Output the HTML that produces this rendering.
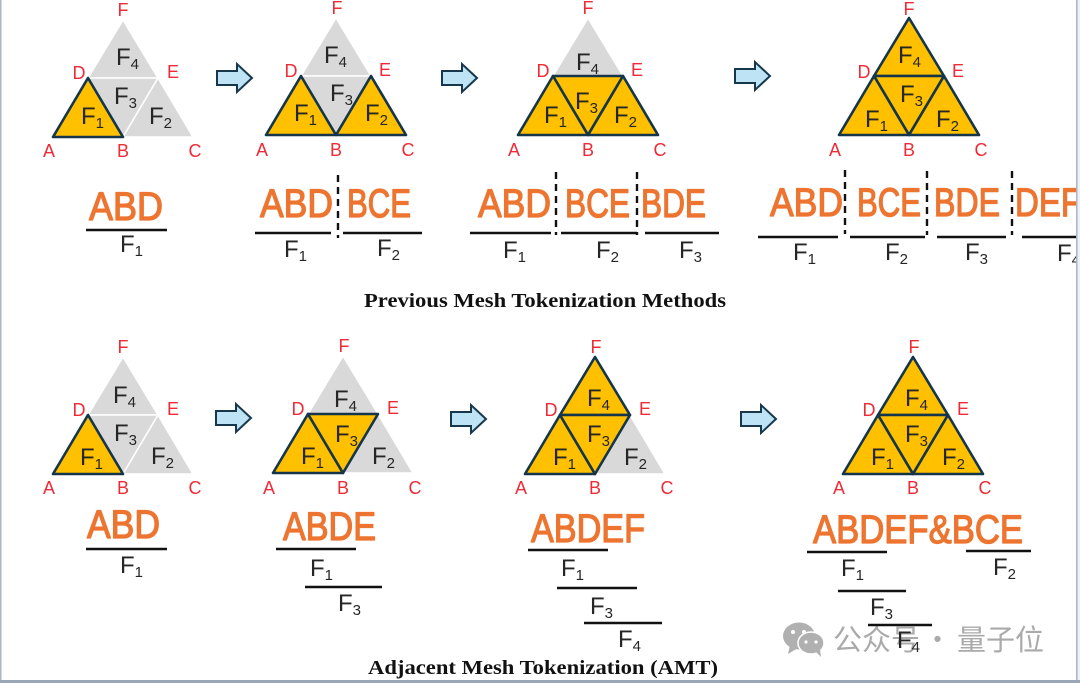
<!DOCTYPE html>
<html>
<head>
<meta charset="utf-8">
<style>
html,body{margin:0;padding:0;background:#fff;width:1080px;height:683px;overflow:hidden}
svg{display:block}
.v{font:18px "Liberation Sans",sans-serif;fill:#ee2b36;text-anchor:middle}
.f{font:24px "Liberation Sans",sans-serif;fill:#262626}
.s{font-size:15px}
.o{font:40px "Liberation Sans",sans-serif;fill:#ed7530;stroke:#ed7530;stroke-width:1.3px;stroke-linejoin:round}
.t{font:bold 20px "Liberation Serif",serif;fill:#111}
.w{font:29px "Noto Sans CJK SC","WenQuanYi Zen Hei",sans-serif;fill:#aaa}
.bar{stroke:#111;stroke-width:2.6}
.dash{stroke:#111;stroke-width:2.4;stroke-dasharray:7 5}
.g{fill:#d9d9d9;stroke:#fff;stroke-width:1.5;stroke-linejoin:round}
.y{fill:#ffc000;stroke:#15354a;stroke-width:2.6;stroke-linejoin:round}
.a{fill:#bde3f5;stroke:#17384c;stroke-width:2}
</style>
</head>
<body>
<svg width="1080" height="683" viewBox="0 0 1080 683" xmlns="http://www.w3.org/2000/svg">
<rect width="1080" height="683" fill="#fff"/>
<rect x="1077" y="0" width="3" height="683" fill="#eef0f3"/>
<rect x="0" y="0" width="1.5" height="683" fill="#aab4c4"/>
<rect x="1076" y="0" width="1.5" height="681" fill="#aab4c4"/>
<rect x="0" y="680" width="1080" height="3" fill="#9aa5b5"/>

<!-- Row 1 diagram 1 -->
<g transform="translate(53,137)">
<polygon class="g" points="35,-59 105,-59 70,-117"/><polygon class="g" points="35,-59 105,-59 70,0"/><polygon class="g" points="70,0 140,0 105,-59"/>
<polygon class="y" points="0,0 70,0 35,-59"/>
<text class="v" x="-4" y="20">A</text><text class="v" x="70" y="20">B</text><text class="v" x="142" y="20">C</text><text class="v" x="26" y="-58">D</text><text class="v" x="120" y="-59">E</text><text class="v" x="70" y="-121">F</text>
<text class="f" x="28" y="-13">F<tspan class="s" dy="4">1</tspan></text><text class="f" x="96" y="-13">F<tspan class="s" dy="4">2</tspan></text><text class="f" x="61" y="-33">F<tspan class="s" dy="4">3</tspan></text><text class="f" x="63" y="-72">F<tspan class="s" dy="4">4</tspan></text>
</g>
<!-- Row 1 diagram 2 -->
<g transform="translate(266,135)">
<polygon class="g" points="35,-59 105,-59 70,-117"/><polygon class="g" points="35,-59 105,-59 70,0"/>
<polygon class="y" points="0,0 70,0 35,-59"/><polygon class="y" points="70,0 140,0 105,-59"/>
<text class="v" x="-4" y="21">A</text><text class="v" x="70" y="21">B</text><text class="v" x="142" y="21">C</text><text class="v" x="25" y="-58">D</text><text class="v" x="119" y="-59">E</text><text class="v" x="71" y="-121">F</text>
<text class="f" x="28" y="-14">F<tspan class="s" dy="4">1</tspan></text><text class="f" x="99" y="-14">F<tspan class="s" dy="4">2</tspan></text><text class="f" x="64" y="-34">F<tspan class="s" dy="4">3</tspan></text><text class="f" x="58" y="-72">F<tspan class="s" dy="4">4</tspan></text>
</g>
<!-- Row 1 diagram 3 -->
<g transform="translate(518,135)">
<polygon class="g" points="35,-59 105,-59 70,-117"/>
<polygon class="y" points="35,-59 105,-59 70,0"/><polygon class="y" points="0,0 70,0 35,-59"/><polygon class="y" points="70,0 140,0 105,-59"/>
<text class="v" x="-4" y="21">A</text><text class="v" x="70" y="21">B</text><text class="v" x="142" y="21">C</text><text class="v" x="25" y="-58">D</text><text class="v" x="119" y="-59">E</text><text class="v" x="70" y="-121">F</text>
<text class="f" x="26" y="-12">F<tspan class="s" dy="4">1</tspan></text><text class="f" x="96" y="-12">F<tspan class="s" dy="4">2</tspan></text><text class="f" x="57" y="-26">F<tspan class="s" dy="4">3</tspan></text><text class="f" x="58" y="-65">F<tspan class="s" dy="4">4</tspan></text>
</g>
<!-- Row 1 diagram 4 -->
<g transform="translate(839,135)">
<polygon class="y" points="35,-59 105,-59 70,-117"/><polygon class="y" points="35,-59 105,-59 70,0"/><polygon class="y" points="0,0 70,0 35,-59"/><polygon class="y" points="70,0 140,0 105,-59"/>
<text class="v" x="-4" y="21">A</text><text class="v" x="70" y="21">B</text><text class="v" x="142" y="21">C</text><text class="v" x="25" y="-57">D</text><text class="v" x="119" y="-58">E</text><text class="v" x="70" y="-120">F</text>
<text class="f" x="26" y="-8">F<tspan class="s" dy="4">1</tspan></text><text class="f" x="97" y="-8">F<tspan class="s" dy="4">2</tspan></text><text class="f" x="61" y="-33">F<tspan class="s" dy="4">3</tspan></text><text class="f" x="59" y="-72">F<tspan class="s" dy="4">4</tspan></text>
</g>
<!-- Row 2 diagram 1 -->
<g transform="translate(53,474)">
<polygon class="g" points="35,-59 105,-59 70,-117"/><polygon class="g" points="35,-59 105,-59 70,0"/><polygon class="g" points="70,0 140,0 105,-59"/>
<polygon class="y" points="0,0 70,0 35,-59"/>
<text class="v" x="-4" y="20">A</text><text class="v" x="70" y="20">B</text><text class="v" x="142" y="20">C</text><text class="v" x="26" y="-58">D</text><text class="v" x="120" y="-59">E</text><text class="v" x="70" y="-121">F</text>
<text class="f" x="27" y="-9">F<tspan class="s" dy="4">1</tspan></text><text class="f" x="98" y="-10">F<tspan class="s" dy="4">2</tspan></text><text class="f" x="61" y="-33">F<tspan class="s" dy="4">3</tspan></text><text class="f" x="60" y="-71">F<tspan class="s" dy="4">4</tspan></text>
</g>
<!-- Row 2 diagram 2 -->
<g transform="translate(273,473)">
<polygon class="g" points="35,-59 105,-59 70,-117"/><polygon class="g" points="70,0 140,0 105,-59"/>
<polygon class="y" points="0,0 70,0 35,-59"/><polygon class="y" points="35,-59 105,-59 70,0"/>
<text class="v" x="-4" y="21">A</text><text class="v" x="70" y="21">B</text><text class="v" x="142" y="21">C</text><text class="v" x="25" y="-58">D</text><text class="v" x="120" y="-59">E</text><text class="v" x="71" y="-121">F</text>
<text class="f" x="28" y="-9">F<tspan class="s" dy="4">1</tspan></text><text class="f" x="99" y="-9">F<tspan class="s" dy="4">2</tspan></text><text class="f" x="62" y="-31">F<tspan class="s" dy="4">3</tspan></text><text class="f" x="61" y="-66">F<tspan class="s" dy="4">4</tspan></text>
</g>
<!-- Row 2 diagram 3 -->
<g transform="translate(525,474)">
<polygon class="g" points="70,0 140,0 105,-59"/>
<polygon class="y" points="35,-59 105,-59 70,-117"/><polygon class="y" points="0,0 70,0 35,-59"/><polygon class="y" points="35,-59 105,-59 70,0"/>
<text class="v" x="-4" y="20">A</text><text class="v" x="70" y="20">B</text><text class="v" x="142" y="20">C</text><text class="v" x="26" y="-58">D</text><text class="v" x="120" y="-59">E</text><text class="v" x="71" y="-121">F</text>
<text class="f" x="28" y="-9">F<tspan class="s" dy="4">1</tspan></text><text class="f" x="99" y="-9">F<tspan class="s" dy="4">2</tspan></text><text class="f" x="62" y="-32">F<tspan class="s" dy="4">3</tspan></text><text class="f" x="62" y="-68">F<tspan class="s" dy="4">4</tspan></text>
</g>
<!-- Row 2 diagram 4 -->
<g transform="translate(843,474)">
<polygon class="y" points="35,-59 105,-59 70,-117"/><polygon class="y" points="35,-59 105,-59 70,0"/><polygon class="y" points="0,0 70,0 35,-59"/><polygon class="y" points="70,0 140,0 105,-59"/>
<text class="v" x="-4" y="20">A</text><text class="v" x="70" y="20">B</text><text class="v" x="142" y="20">C</text><text class="v" x="26" y="-58">D</text><text class="v" x="120" y="-59">E</text><text class="v" x="71" y="-121">F</text>
<text class="f" x="28" y="-9">F<tspan class="s" dy="4">1</tspan></text><text class="f" x="99" y="-9">F<tspan class="s" dy="4">2</tspan></text><text class="f" x="62" y="-32">F<tspan class="s" dy="4">3</tspan></text><text class="f" x="62" y="-68">F<tspan class="s" dy="4">4</tspan></text>
</g>

<!-- Arrows -->
<polygon class="a" transform="translate(217,78)" points="0,-7 20,-7 20,-14 35,0 20,14 20,7 0,7"/>
<polygon class="a" transform="translate(442,78)" points="0,-7 20,-7 20,-14 35,0 20,14 20,7 0,7"/>
<polygon class="a" transform="translate(735,76)" points="0,-7 20,-7 20,-14 35,0 20,14 20,7 0,7"/>
<polygon class="a" transform="translate(216,418)" points="0,-7 20,-7 20,-14 35,0 20,14 20,7 0,7"/>
<polygon class="a" transform="translate(451,419)" points="0,-7 20,-7 20,-14 35,0 20,14 20,7 0,7"/>
<polygon class="a" transform="translate(741,419)" points="0,-7 20,-7 20,-14 35,0 20,14 20,7 0,7"/>

<!-- Row 1 tokens -->
<text class="o" x="89" y="220" textLength="74" lengthAdjust="spacingAndGlyphs">ABD</text>
<line class="bar" x1="86" y1="230" x2="167" y2="230"/>
<text class="f" x="120" y="252">F<tspan class="s" dy="4">1</tspan></text>

<text class="o" x="260" y="217" textLength="73" lengthAdjust="spacingAndGlyphs">ABD</text>
<text class="o" x="347" y="217" textLength="64" lengthAdjust="spacingAndGlyphs">BCE</text>
<line class="dash" x1="338" y1="175" x2="338" y2="238"/>
<line class="bar" x1="255" y1="233" x2="331" y2="233"/><line class="bar" x1="343" y1="233" x2="422" y2="233"/>
<text class="f" x="284" y="257">F<tspan class="s" dy="4">1</tspan></text><text class="f" x="377" y="256">F<tspan class="s" dy="4">2</tspan></text>

<text class="o" x="478" y="217" textLength="73" lengthAdjust="spacingAndGlyphs">ABD</text>
<text class="o" x="565" y="217" textLength="65" lengthAdjust="spacingAndGlyphs">BCE</text>
<text class="o" x="641" y="217" textLength="65" lengthAdjust="spacingAndGlyphs">BDE</text>
<line class="dash" x1="556" y1="172" x2="556" y2="235"/><line class="dash" x1="637" y1="172" x2="637" y2="235"/>
<line class="bar" x1="470" y1="233" x2="551" y2="233"/><line class="bar" x1="561" y1="233" x2="637" y2="233"/><line class="bar" x1="645" y1="233" x2="719" y2="233"/>
<text class="f" x="503" y="258">F<tspan class="s" dy="4">1</tspan></text><text class="f" x="596" y="258">F<tspan class="s" dy="4">2</tspan></text><text class="f" x="679" y="258">F<tspan class="s" dy="4">3</tspan></text>

<text class="o" x="770" y="216" textLength="73" lengthAdjust="spacingAndGlyphs">ABD</text>
<text class="o" x="857" y="216" textLength="64" lengthAdjust="spacingAndGlyphs">BCE</text>
<text class="o" x="934" y="216" textLength="66" lengthAdjust="spacingAndGlyphs">BDE</text>
<svg x="0" y="0" width="1076" height="683"><text class="o" x="1015" y="216" textLength="66" lengthAdjust="spacingAndGlyphs">DEF</text>
<line class="bar" x1="1022" y1="237" x2="1076" y2="237"/>
<text class="f" x="1057" y="261">F<tspan class="s" dy="4">4</tspan></text></svg>
<line class="dash" x1="845" y1="170" x2="845" y2="234"/><line class="dash" x1="927" y1="171" x2="927" y2="235"/><line class="dash" x1="1012" y1="171" x2="1012" y2="235"/>
<line class="bar" x1="758" y1="237" x2="838" y2="237"/><line class="bar" x1="850" y1="237" x2="925" y2="237"/><line class="bar" x1="937" y1="237" x2="1006" y2="237"/>
<text class="f" x="793" y="260">F<tspan class="s" dy="4">1</tspan></text><text class="f" x="885" y="260">F<tspan class="s" dy="4">2</tspan></text><text class="f" x="965" y="260">F<tspan class="s" dy="4">3</tspan></text>

<text class="t" x="364" y="307" textLength="362" lengthAdjust="spacingAndGlyphs">Previous Mesh Tokenization Methods</text>

<!-- Row 2 tokens -->
<text class="o" x="87" y="538" textLength="73" lengthAdjust="spacingAndGlyphs">ABD</text>
<line class="bar" x1="86" y1="549" x2="167" y2="549"/>
<text class="f" x="120" y="573">F<tspan class="s" dy="4">1</tspan></text>

<text class="o" x="283" y="540" textLength="93" lengthAdjust="spacingAndGlyphs">ABDE</text>
<line class="bar" x1="276" y1="549" x2="356" y2="549"/>
<text class="f" x="310" y="576">F<tspan class="s" dy="4">1</tspan></text>
<line class="bar" x1="305" y1="587" x2="382" y2="587"/>
<text class="f" x="338" y="611">F<tspan class="s" dy="4">3</tspan></text>

<text class="o" x="531" y="542" textLength="114" lengthAdjust="spacingAndGlyphs">ABDEF</text>
<line class="bar" x1="528" y1="550" x2="608" y2="550"/>
<text class="f" x="561" y="576">F<tspan class="s" dy="4">1</tspan></text>
<line class="bar" x1="557" y1="588" x2="637" y2="588"/>
<text class="f" x="590" y="614">F<tspan class="s" dy="4">3</tspan></text>
<line class="bar" x1="584" y1="623" x2="662" y2="623"/>
<text class="f" x="618" y="647">F<tspan class="s" dy="4">4</tspan></text>

<text class="o" x="813" y="543" textLength="210" lengthAdjust="spacingAndGlyphs">ABDEF&amp;BCE</text>
<line class="bar" x1="807" y1="552" x2="887" y2="552"/>
<line class="bar" x1="966" y1="551" x2="1031" y2="551"/>
<text class="f" x="841" y="576">F<tspan class="s" dy="4">1</tspan></text>
<text class="f" x="993" y="575">F<tspan class="s" dy="4">2</tspan></text>
<line class="bar" x1="838" y1="591" x2="906" y2="591"/>
<text class="f" x="870" y="615">F<tspan class="s" dy="4">3</tspan></text>

<!-- Watermark -->
<g fill="#b0b0b0">
<ellipse cx="799" cy="636" rx="16" ry="13.5"/><polygon points="790,645 788,654 798,648"/>
<ellipse cx="811" cy="643" rx="13" ry="11" stroke="#fff" stroke-width="1.5"/><polygon points="816,652 821,657 820,649"/>
</g>
<g fill="#fff"><circle cx="793" cy="632" r="2"/><circle cx="804" cy="632" r="2"/><circle cx="806" cy="642" r="1.6"/><circle cx="816" cy="642" r="1.6"/></g>
<text class="w" x="833" y="650">公众号</text>
<text class="w" x="923" y="650">·</text>
<text class="w" x="957" y="650">量子位</text>

<line class="bar" x1="868" y1="625" x2="932" y2="625"/>
<text class="f" x="897" y="648">F<tspan class="s" dy="4">4</tspan></text>

<text class="t" x="368" y="674" textLength="350" lengthAdjust="spacingAndGlyphs">Adjacent Mesh Tokenization (AMT)</text>
</svg>
</body>
</html>
